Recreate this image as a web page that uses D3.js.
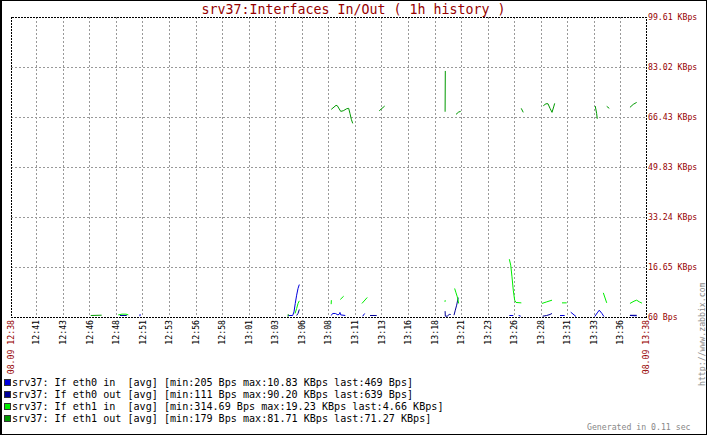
<!DOCTYPE html>
<html>
<head>
<meta charset="utf-8">
<script src="https://cdn.jsdelivr.net/npm/d3@7"></script>
<style>
    body { margin: 0; background: #fff; }
    svg { display: block; }
    text { font-family: "DejaVu Sans Mono", monospace; white-space: pre; }
</style>
</head>
<body>
<svg id="chart" width="707" height="435"></svg>
<script>
// time window of the graph (1h history)
const startTime = "2011-09-08T12:38:37";
const endTime = "2011-09-08T13:38:25";

const xTickTimes = ["12:41:00", "12:43:30", "12:46:00", "12:48:30", "12:51:00", "12:53:30",
    "12:56:00", "12:58:30", "13:01:00", "13:03:30", "13:06:00", "13:08:30", "13:11:00",
    "13:13:30", "13:16:00", "13:18:30", "13:21:00", "13:23:30", "13:26:00", "13:28:30",
    "13:31:00", "13:33:30", "13:36:00"];

// y axis in KBps, bottom is 60 Bps
const yTickValues = [0.0586, 16.65, 33.24, 49.83, 66.43, 83.02, 99.61];
const yTickLabels = ["60 Bps", "16.65 KBps", "33.24 KBps", "49.83 KBps", "66.43 KBps", "83.02 KBps", "99.61 KBps"];

// series: segments of [minutes since start, KBps], gaps between segments
const eth0In = [
    [[12.14, 0.33], [12.16, 1.0]],
    [[26.11, 0.56], [26.53, 0.56], [26.65, 1.76], [26.77, 4.55], [26.90, 7.30], [27.03, 9.53], [27.15, 10.83]],
    [[30.16, 0.56], [30.29, 1.23], [30.54, 1.23], [30.79, 0.76], [30.92, 1.00], [30.98, 1.56], [31.05, 0.76], [31.48, 0.56]],
    [[33.12, 0.33], [33.31, 1.23]],
    [[46.93, 0.56], [47.30, 0.56]],
    [[47.81, 0.56], [48.00, 0.33]],
    [[51.70, 0.56], [52.14, 0.56]],
    [[52.71, 1.66], [53.21, 0.21]],
    [[54.97, 0.21], [55.21, 1.43], [55.40, 2.32], [55.65, 1.23], [55.84, 0.21]],
    [[58.29, 0.56], [58.92, 0.46]]
];
const eth0Out = [
    [[10.26, 0.56], [10.90, 0.56]],
    [[26.90, 0.56], [27.03, 1.23], [27.15, 2.56]],
    [[33.81, 0.56], [34.44, 0.56]],
    [[40.88, 2.0], [40.90, 0.33], [41.08, 0.33], [41.27, 0.90], [41.41, 0.90]],
    [[41.72, 0.66], [41.84, 2.32], [41.97, 3.98], [42.10, 6.21], [42.16, 6.41]],
    [[50.07, 0.33], [50.45, 0.56], [50.76, 0.90], [50.95, 1.23]],
    [[58.29, 0.62], [58.92, 0.62]]
];
const eth1In = [
    [[10.10, 0.76], [10.45, 1.0], [10.83, 1.0], [11.05, 0.76]],
    [[26.75, 1.23], [26.90, 2.89], [27.03, 4.55], [27.15, 5.41]],
    [[30.15, 4.32], [30.17, 5.64]],
    [[31.01, 5.88], [31.33, 6.97]],
    [[33.05, 4.55], [33.55, 6.54]],
    [[40.87, 5.08], [40.89, 5.64]],
    [[41.78, 9.53], [41.91, 8.07], [42.03, 6.74], [42.16, 4.55]],
    [[46.93, 19.23], [47.06, 17.27], [47.18, 13.38], [47.30, 8.96], [47.43, 5.64], [47.56, 4.88], [48.06, 4.75]],
    [[50.00, 4.55], [50.45, 5.08], [50.95, 5.64]],
    [[51.89, 4.75], [52.33, 4.75]],
    [[55.78, 8.07], [56.10, 4.75]],
    [[58.29, 4.55], [58.67, 5.31], [58.92, 5.64], [59.17, 5.08], [59.42, 4.66]]
];
const eth1Out = [
    [[7.51, 0.56], [8.54, 0.66]],
    [[26.09, 0.18], [26.11, 1.0]],
    [[30.16, 68.96], [30.61, 70.29], [30.73, 70.16], [31.05, 68.30], [31.29, 68.50], [31.61, 69.16], [31.80, 69.30], [31.92, 67.63], [32.05, 65.64], [32.18, 64.31]],
    [[34.68, 68.50], [35.19, 70.06]],
    [[40.88, 68.17], [40.90, 81.71]],
    [[41.91, 67.30], [42.16, 68.07], [42.35, 68.30]],
    [[48.05, 69.30], [48.24, 67.97]],
    [[50.13, 70.16], [50.38, 70.82], [50.57, 70.82], [50.76, 69.30], [50.95, 67.97], [51.13, 70.06], [51.20, 70.95]],
    [[55.02, 70.06], [55.15, 67.63], [55.21, 65.84]],
    [[56.10, 69.96], [56.34, 69.30]],
    [[58.29, 69.63], [58.60, 70.62], [58.92, 71.27]]
];

const seriesData = [eth0In, eth0Out, eth1In, eth1Out];
const seriesColors = ["#0000DD", "#000099", "#00EE00", "#009900"];
const legendNames = ["srv37: If eth0 in ", "srv37: If eth0 out", "srv37: If eth1 in ", "srv37: If eth1 out"];
const legendMin = ["205 Bps", "111 Bps", "314.69 Bps", "179 Bps"];
const legendMax = ["10.83 KBps", "90.20 KBps", "19.23 KBps", "81.71 KBps"];
const legendLast = ["469 Bps", "639 Bps", "4.66 KBps", "71.27 KBps"];

const W = 707, H = 435;
const plotLeft = 11, plotRight = 646, plotTop = 17, plotBottom = 317;
const red = "#960000";
const gray = "#999";

const t0 = new Date(startTime);
const t1 = new Date(endTime);
const day = startTime.slice(0, 11);
const toDate = m => new Date(t0.getTime() + m * 60000);

const x = d3.scaleTime().domain([t0, t1]).range([plotLeft, plotRight]);
const y = d3.scaleLinear().domain([yTickValues[0], 99.61]).range([plotBottom, plotTop]);
const px = v => Math.round(v) + 0.5;

const svg = d3.select("#chart");

svg.append("rect").attr("width", W).attr("height", H).attr("fill", "#fff");
svg.append("rect")
    .attr("x", 0.5).attr("y", 0.5).attr("width", W - 1).attr("height", H - 1)
    .attr("fill", "none").attr("stroke", "#000");
svg.append("line").attr("x1", 1.5).attr("x2", 1.5).attr("y1", 0).attr("y2", H).attr("stroke", "#000");

// title
svg.append("text")
    .attr("x", W / 2).attr("y", 14)
    .attr("text-anchor", "middle")
    .attr("font-size", 13.3)
    .attr("fill", red)
    .text("srv37:Interfaces In/Out ( 1h history )");

// grid
const tickDates = xTickTimes.map(s => new Date(day + s));
const grid = svg.append("g")
    .attr("stroke", gray).attr("stroke-dasharray", "2,2")
    .attr("shape-rendering", "crispEdges");
grid.selectAll("line.v")
    .data(tickDates)
    .join("line")
    .attr("class", "v")
    .attr("x1", d => px(x(d))).attr("x2", d => px(x(d)))
    .attr("y1", plotTop).attr("y2", plotBottom);
grid.selectAll("line.h")
    .data(yTickValues.slice(1, -1))
    .join("line")
    .attr("class", "h")
    .attr("x1", plotLeft).attr("x2", plotRight)
    .attr("y1", d => px(y(d))).attr("y2", d => px(y(d)));

// dotted frame of the plot area
svg.append("rect")
    .attr("x", px(plotLeft)).attr("y", px(plotTop))
    .attr("width", Math.round(plotRight) - Math.round(plotLeft))
    .attr("height", Math.round(plotBottom) - Math.round(plotTop))
    .attr("fill", "none").attr("stroke", "#000")
    .attr("stroke-dasharray", "2,1")
    .attr("shape-rendering", "crispEdges");

// series lines
const line = d3.line()
    .defined(d => d !== null)
    .x(d => x(toDate(d[0])))
    .y(d => y(d[1]));

seriesData.forEach((segments, i) => {
    const pts = [];
    segments.forEach(seg => { seg.forEach(p => pts.push(p)); pts.push(null); });
    svg.append("path")
        .attr("d", line(pts))
        .attr("fill", "none")
        .attr("stroke", seriesColors[i])
        .attr("stroke-width", 1);
});

// y axis labels on the right
const yAxis = d3.axisRight(y)
    .tickValues(yTickValues)
    .tickFormat((d, i) => yTickLabels[i])
    .tickSize(0)
    .tickPadding(2);
const gy = svg.append("g")
    .attr("transform", `translate(${plotRight},0)`)
    .call(yAxis);
gy.select(".domain").remove();
gy.selectAll("text")
    .attr("font-family", "DejaVu Sans Mono")
    .attr("font-size", 8.2)
    .attr("fill", red);

// time labels, rotated
const xAxis = d3.axisBottom(x)
    .tickValues(tickDates)
    .tickFormat(d3.timeFormat("%H:%M"))
    .tickSize(0);
const gx = svg.append("g")
    .attr("transform", `translate(0,${plotBottom})`)
    .call(xAxis);
gx.select(".domain").remove();
gx.selectAll("text")
    .attr("font-family", "DejaVu Sans Mono")
    .attr("font-size", 8.2)
    .attr("fill", "#000")
    .attr("text-anchor", "end")
    .attr("transform", "rotate(-90)")
    .attr("x", -3)
    .attr("y", 0)
    .attr("dy", "0.32em");

const fmtEdge = d3.timeFormat("%d.%m %H:%M");
svg.selectAll("text.edge")
    .data([t0, t1])
    .join("text")
    .attr("class", "edge")
    .attr("transform", d => `translate(${x(d)},${plotBottom + 3}) rotate(-90)`)
    .attr("text-anchor", "end")
    .attr("dy", "0.32em")
    .attr("font-size", 8.2)
    .attr("fill", red)
    .text(d => fmtEdge(d));

// legend
const legend = svg.append("g");
const rows = legend.selectAll("g")
    .data(legendNames)
    .join("g")
    .attr("transform", (d, i) => `translate(0,${386 + i * 12})`);
rows.append("rect")
    .attr("x", 4.5).attr("y", -6.5)
    .attr("width", 6).attr("height", 6)
    .attr("fill", (d, i) => seriesColors[i])
    .attr("stroke", "#333");
rows.append("text")
    .attr("x", 12).attr("y", 0)
    .attr("font-size", 10.1)
    .attr("fill", "#000")
    .text((d, i) => `${d} [avg] [min:${legendMin[i]} max:${legendMax[i]} last:${legendLast[i]}]`);

// footer texts
svg.append("text")
    .attr("transform", "translate(705,386) rotate(-90)")
    .attr("font-size", 8.2)
    .attr("fill", "#888")
    .text("http://www.zabbix.com");
svg.append("text")
    .attr("x", 587).attr("y", 430)
    .attr("font-size", 8.2)
    .attr("fill", "#888")
    .text("Generated in 0.11 sec");
</script>
</body>
</html>
